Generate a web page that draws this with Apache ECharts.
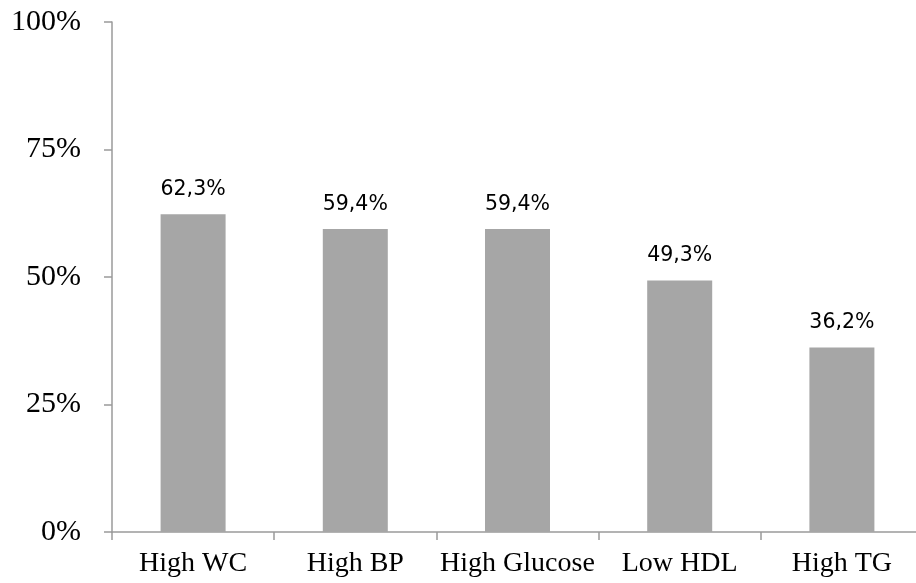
<!DOCTYPE html>
<html>
<head>
<meta charset="utf-8">
<script src="https://cdn.jsdelivr.net/npm/echarts@6/dist/echarts.min.js"></script>
<style>
html, body { margin: 0; padding: 0; background: #fff; overflow: hidden; }
#chart { width: 923px; height: 583px; }
</style>
</head>
<body>
<div id="chart"></div>
<script>
// categories and values (percent)
var categories = ['High WC', 'High BP', 'High Glucose', 'Low HDL', 'High TG'];
var values = [62.3, 59.4, 59.4, 49.3, 36.2];
var yTicks = [0, 25, 50, 75, 100];

var axisColor = '#9a9a9a';
var barColor = '#a6a6a6';

var chart = echarts.init(document.getElementById('chart'));
chart.setOption({
	animation: false,
	grid: { left: 112, right: 0, top: 22, bottom: 51, containLabel: false },
	xAxis: {
		type: 'category',
		data: categories,
		axisLine: { lineStyle: { color: axisColor, width: 1.5 } },
		axisTick: { show: true, length: 8, lineStyle: { color: axisColor, width: 1.5 } },
		axisLabel: {
			interval: 0,
			margin: 18,
			color: '#000',
			fontFamily: 'Liberation Serif',
			fontSize: 28
		}
	},
	yAxis: {
		type: 'value',
		min: yTicks[0],
		max: yTicks[yTicks.length - 1],
		interval: 25,
		splitLine: { show: false },
		axisLine: { show: true, lineStyle: { color: axisColor, width: 1.5 } },
		axisTick: { show: true, length: 8, lineStyle: { color: axisColor, width: 1.5 } },
		axisLabel: {
			margin: 31,
			color: '#000',
			fontFamily: 'Liberation Serif',
			fontSize: 30,
			formatter: '{value}%'
		}
	},
	series: [{
		type: 'bar',
		data: values,
		barWidth: 65,
		itemStyle: { color: barColor },
		label: {
			show: true,
			position: 'top',
			distance: 14,
			color: '#000',
			fontFamily: 'DejaVu Sans',
			fontSize: 20.5,
			formatter: function (p) { return p.value.toFixed(1).replace('.', ',') + '%'; }
		}
	}]
});
</script>
</body>
</html>
